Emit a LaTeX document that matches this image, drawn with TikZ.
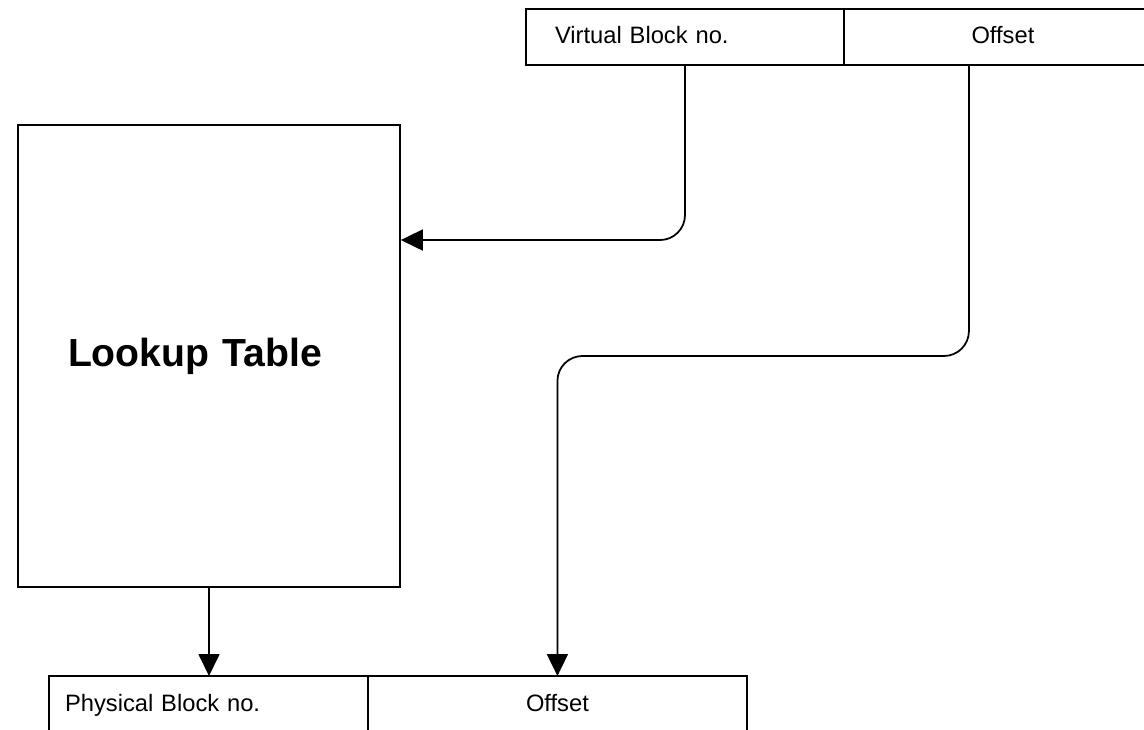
\documentclass[tikz,border=0pt]{standalone}
\usepackage{fontspec}
\setmainfont{Liberation Sans}
\usetikzlibrary{arrows.meta,positioning}

\tikzset{
  cell/.style={draw, line width=1pt, outer sep=0pt, minimum height=1.12cm,
    text height=10pt, text depth=3pt, font=\fontsize{13.5}{16}\selectfont},
  arr/.style={-{Triangle[length=0.44cm,width=0.42cm]}, line width=1pt,
    rounded corners=0.5cm},
}

\begin{document}
\begin{tikzpicture}[x=0.02cm, y=-0.02cm]
  \useasboundingbox (0,0) rectangle (1144,730);

  % virtual address
  \node[cell, align=left, inner xsep=0.58cm, text width=5.2cm] (vbn) at (685,37) {Virtual Block no.};
  \node[cell, minimum width=6.36cm, right=0pt of vbn] (voff) {Offset};

  % table
  \node[draw, line width=1pt, minimum height=9.24cm, align=left, inner xsep=1cm, text width=5.64cm,
    font=\fontsize{22.3}{26}\selectfont\bfseries] (lut) at (209,356) {Lookup Table};

  % physical address
  \node[cell, align=left, inner xsep=0.32cm, text width=5.74cm, minimum height=1.16cm] (pbn) at (208.5,705) {Physical Block no.};
  \node[cell, minimum width=7.58cm, minimum height=1.16cm, right=0pt of pbn] (poff) {Offset};

  \draw[arr] (vbn.south) |- ([yshift=2.32cm]lut.east);
  \draw[arr] ([xshift=-0.68cm]voff.south) |- (poff.north |- lut.center) -- (poff.north);
  \draw[arr] (lut.south) -- (lut.south |- pbn.north);
\end{tikzpicture}
\end{document}
